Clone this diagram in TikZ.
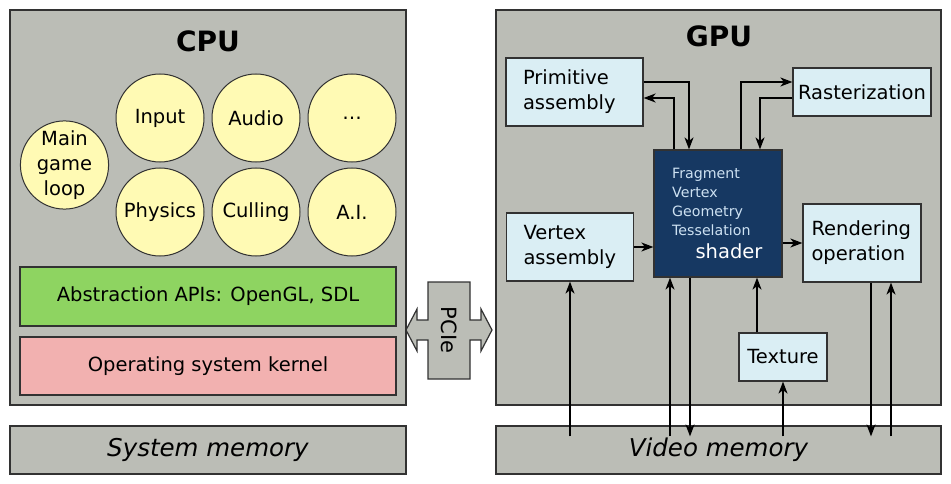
\documentclass[tikz,border=0pt]{standalone}
\usepackage{fontspec}
\setmainfont{DejaVu Sans}
\usetikzlibrary{arrows.meta,positioning}

\definecolor{unitgray}{RGB}{187,189,182}
\definecolor{taskyellow}{RGB}{255,250,180}
\definecolor{stageblue}{RGB}{218,238,244}
\definecolor{shaderblue}{RGB}{22,56,98}
\definecolor{shadertext}{RGB}{205,225,242}
\definecolor{apigreen}{RGB}{142,212,97}
\definecolor{kernelpink}{RGB}{242,177,176}
\definecolor{edgegray}{RGB}{50,50,50}

\tikzset{
	unit/.style={rectangle, draw=edgegray, fill=unitgray, line width=1.2pt, inner sep=0pt},
	task/.style={circle, draw=edgegray, fill=taskyellow, line width=1pt, minimum size=88pt, inner sep=0pt, align=center, font=\fontsize{19.5}{25}\selectfont},
	layer/.style={rectangle, draw=edgegray, line width=1.2pt, minimum width=376pt, font=\fontsize{19.5}{25}\selectfont},
	stage/.style={rectangle, draw=edgegray, fill=stageblue, line width=1.2pt, align=left, font=\fontsize{19.5}{25}\selectfont},
	title/.style={font=\fontsize{28}{30}\selectfont\bfseries},
	memory/.style={unit, minimum height=48pt, font=\fontsize{24.5}{28}\selectfont\itshape},
	flow/.style={line width=1.6pt, -{Stealth[length=12pt,width=9pt,inset=3.5pt]}},
}

\begin{document}
\begin{tikzpicture}[x=1pt, y=-1pt]
	\useasboundingbox (0,0) rectangle (951,484);

	% processing units and memories
	\node[unit, minimum width=396pt, minimum height=395pt] (cpu) at (208,207.5) {};
	\node[unit, minimum width=445pt, minimum height=395pt] (gpu) at (718.5,207.5) {};
	\node[memory, minimum width=396pt] (sysmem) at (208,450) {System memory};
	\node[memory, minimum width=445pt] (vram) at (718.5,450) {Video memory};
	\node[title] (cpu title) at (208,41) {CPU};
	\node[title] (gpu title) at (719,36) {GPU};

	% CPU side
	\node[task] (mainloop) at (64.5,165) {Main\\game\\loop};
	\node[task] (input) at (160,118) {Input};
	\node[task] (audio) at (256,118) {Audio};
	\node[task] (more) at (352,118) {…};
	\node[task] (physics) at (160,212) {Physics};
	\node[task] (culling) at (256,212) {Culling};
	\node[task] (ai) at (352,212) {A.I.};
	\node[layer, fill=apigreen, minimum height=59pt] (api) at (208,296.5) {Abstraction APIs: OpenGL, SDL};
	\node[layer, fill=kernelpink, minimum height=58pt] (kernel) at (208,366) {Operating system kernel};

	% bus
	\draw[unit] (406,330) -- (417,309) -- (417,320) -- (428,320) -- (428,282) -- (470,282)
		-- (470,320) -- (481,320) -- (481,309) -- (492,330) -- (481,351) -- (481,340)
		-- (470,340) -- (470,379) -- (428,379) -- (428,340) -- (417,340) -- (417,351) -- cycle;
	\node[rotate=-90, font=\fontsize{21}{24}\selectfont] (pcie) at (449,330) {PCIe};

	% GPU side
	\node[stage, minimum height=68pt, inner xsep=17pt, text width=103pt] (prim) at (574.5,92) {Primitive\\assembly};
	\node[stage, minimum height=48pt, minimum width=138pt, inner xsep=4pt] (raster) at (862,92) {Rasterization};
	\node[stage, minimum height=68pt, inner xsep=17pt, text width=93pt] (vertex) at (570,247) {Vertex\\assembly};
	\node[stage, minimum height=78pt, inner xsep=8.5pt, text width=101pt] (render) at (862,243) {Rendering\\operation};
	\node[stage, minimum height=48pt, minimum width=88pt] (texture) at (783,357) {Texture};
	\node[rectangle, draw=edgegray, fill=shaderblue, line width=1.2pt, minimum width=128pt, minimum height=127pt] (shader) at (718,213.5) {};
	\node[anchor=north west, inner sep=0pt, align=left, text=shadertext, font=\fontsize{14.2}{19}\selectfont] (shader list) at (672,168) {Fragment\\Vertex\\Geometry\\Tesselation};
	\node[anchor=base, inner sep=0pt, text=white, font=\fontsize{19.5}{25}\selectfont] (shader name) at (729,258) {shader};

	% connectors
	\coordinate (vtop) at ([yshift=-11pt]vram.north);
	\coordinate (s1) at ([xshift=-48pt]shader.south);
	\coordinate (s2) at ([xshift=-28pt]shader.south);
	\coordinate (s3) at ([xshift=39pt]shader.south);
	\coordinate (r1) at ([xshift=9pt]render.south);
	\coordinate (r2) at ([xshift=29pt]render.south);
	\draw[flow] ([yshift=10pt]prim.east) -| ([xshift=-29pt]shader.north);
	\draw[flow] ([xshift=-44pt]shader.north) |- ([yshift=-6pt]prim.east);
	\draw[flow] ([xshift=23pt]shader.north) |- ([yshift=10pt]raster.west);
	\draw[flow] ([yshift=-6pt]raster.west) -| ([xshift=42pt]shader.north);
	\draw[flow] (vertex.east) -- (vertex.east -| shader.west);
	\draw[flow] (render.west -| shader.east) -- (render.west);
	\draw[flow] (vertex.south |- vtop) -- (vertex.south);
	\draw[flow] (s1 |- vtop) -- (s1);
	\draw[flow] (s2) -- (s2 |- vtop);
	\draw[flow] (s3 |- texture.north) -- (s3);
	\draw[flow] (texture.south |- vtop) -- (texture.south);
	\draw[flow] (r1) -- (r1 |- vtop);
	\draw[flow] (r2 |- vtop) -- (r2);
\end{tikzpicture}
\end{document}
